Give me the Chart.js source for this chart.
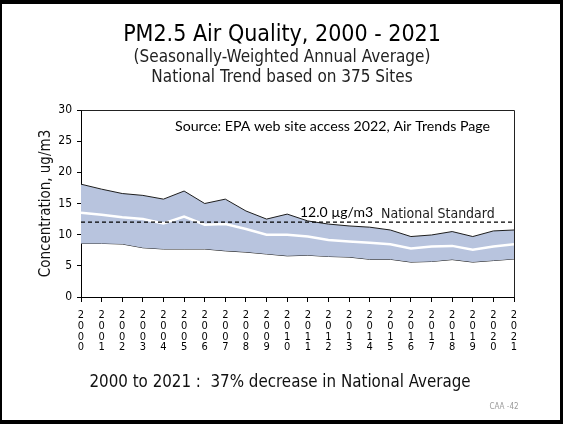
<!DOCTYPE html>
<html>
<head>
<meta charset="utf-8">
<script src="https://cdn.jsdelivr.net/npm/chart.js@4/dist/chart.umd.min.js"></script>
<style>
html,body{margin:0;padding:0;background:#fff;}
#frame{width:558px;height:416px;border-style:solid;border-color:#000;border-width:4px 3px 4px 2px;background:#fff;}
canvas{display:block;}
</style>
</head>
<body>
<div id="frame"><canvas id="c" width="558" height="416"></canvas></div>
<script>
const years = ['2000','2001','2002','2003','2004','2005','2006','2007','2008','2009','2010','2011','2012','2013','2014','2015','2016','2017','2018','2019','2020','2021'];
const upper90 = [18.1, 17.3, 16.6, 16.3, 15.7, 17.0, 15.0, 15.7, 13.8, 12.5, 13.3, 12.2, 11.7, 11.4, 11.2, 10.75, 9.7, 9.95, 10.5, 9.7, 10.6, 10.75];
const nationalMean = [13.5, 13.2, 12.8, 12.5, 11.8, 12.9, 11.6, 11.7, 10.9, 10.0, 10.0, 9.7, 9.15, 8.9, 8.7, 8.45, 7.8, 8.1, 8.2, 7.6, 8.1, 8.45];
const lower10 = [8.6, 8.6, 8.5, 7.9, 7.7, 7.7, 7.7, 7.4, 7.2, 6.9, 6.6, 6.7, 6.5, 6.4, 6.05, 6.05, 5.6, 5.7, 6.0, 5.6, 5.85, 6.1];
const standardValue = 12.0;
const yTicks = [0, 5, 10, 15, 20, 25, 30];

const titleText = 'PM2.5 Air Quality, 2000 - 2021';
const subtitleLines = ['(Seasonally-Weighted Annual Average)', 'National Trend based on 375 Sites'];
const sourceText = 'Source: EPA web site access 2022, Air Trends Page';
const standardLabel = '12.0 \u00b5g/m3';
const standardName = 'National Standard';
const footerText = '2000 to 2021 :  37% decrease in National Average';
const slideNo = 'CAA -42';

const FONT = '"DejaVu Sans Condensed", "DejaVu Sans", sans-serif';
const BAND = '#b8c4de';
const EDGE = '#1e1e1e';

const extras = {
  id: 'extras',
  afterDatasetsDraw(chart) {
    const ctx = chart.ctx, a = chart.chartArea, y = chart.scales.y;
    ctx.save();
    ctx.strokeStyle = '#222';
    ctx.lineWidth = 1;
    ctx.beginPath();
    ctx.moveTo(Math.round(a.left) + 0.5, Math.round(a.top) + 0.5);
    ctx.lineTo(Math.round(a.right) + 0.5, Math.round(a.top) + 0.5);
    ctx.lineTo(Math.round(a.right) + 0.5, Math.round(a.bottom) + 0.5);
    ctx.stroke();
    ctx.fillStyle = '#000';
    ctx.textBaseline = 'alphabetic';
    ctx.textAlign = 'left';
    ctx.font = '14.2px Lato, sans-serif';
    ctx.fillText(sourceText, 173, 127);
    const ys = y.getPixelForValue(standardValue);
    ctx.font = '14px Lato, sans-serif';
    ctx.fillText(standardLabel, 298, ys - 5);
    ctx.font = '14px ' + FONT;
    ctx.fillStyle = '#222';
    ctx.fillText(standardName, 379, ys - 4);
    ctx.restore();
  },
  afterDraw(chart) {
    const ctx = chart.ctx;
    ctx.save();
    ctx.fillStyle = '#000';
    ctx.textAlign = 'center';
    ctx.textBaseline = 'alphabetic';
    ctx.font = '23px ' + FONT;
    ctx.fillText(titleText, 280, 37);
    ctx.fillStyle = '#222';
    ctx.font = '17px ' + FONT;
    ctx.fillText(subtitleLines[0], 280, 58);
    ctx.fillText(subtitleLines[1], 280, 78);
    ctx.fillStyle = '#111';
    ctx.font = '16.8px ' + FONT;
    ctx.fillText(footerText, 278, 383);
    ctx.fillStyle = '#9a9a9a';
    ctx.font = '8px ' + FONT;
    ctx.fillText(slideNo, 502, 405);
    ctx.restore();
  }
};

new Chart(document.getElementById('c'), {
  type: 'line',
  data: {
    labels: years.map(s => s.split('')),
    datasets: [
      { label: '10th percentile', data: lower10, order: 4, borderColor: EDGE, borderWidth: 1, pointRadius: 0, fill: false, tension: 0 },
      { label: '90th percentile', data: upper90, order: 3, borderColor: EDGE, borderWidth: 1, pointRadius: 0, fill: '-1', backgroundColor: BAND, tension: 0 },
      { label: 'National Average', data: nationalMean, order: 2, borderColor: '#ffffff', borderWidth: 2.5, pointRadius: 0, fill: false, tension: 0 },
      { label: 'National Standard', data: years.map(() => standardValue), order: 1, borderColor: '#000', borderWidth: 1.2, borderDash: [4, 3], pointRadius: 0, fill: false }
    ]
  },
  options: {
    responsive: false,
    devicePixelRatio: 1,
    animation: false,
    events: [],
    layout: { padding: { top: 106, right: 46, left: 0, bottom: 0 } },
    plugins: { legend: { display: false }, tooltip: { enabled: false }, title: { display: false } },
    scales: {
      x: {
        type: 'category',
        offset: false,
        grid: { display: true, drawOnChartArea: false, drawTicks: true, tickLength: 5, color: '#000' },
        border: { display: true, color: '#000', width: 1 },
        ticks: { color: '#000', font: { family: FONT, size: 11, lineHeight: 0.97 }, padding: 8, maxRotation: 0, autoSkip: false },
        afterFit(s) { s.height = 123; }
      },
      y: {
        min: 0, max: 30,
        afterBuildTicks(s) { s.ticks = yTicks.map(v => ({ value: v })); },
        grid: { display: true, drawOnChartArea: false, drawTicks: true, tickLength: 4, color: '#000' },
        border: { display: true, color: '#000', width: 1 },
        ticks: { color: '#000', font: { family: FONT, size: 12 }, padding: 5 },
        title: { display: true, text: 'Concentration, ug/m3', color: '#111', font: { family: FONT, size: 15 }, padding: { top: 35, bottom: 0 } },
        afterFit(s) { s.width = 79; }
      }
    }
  },
  plugins: [extras]
});
</script>
</body>
</html>
